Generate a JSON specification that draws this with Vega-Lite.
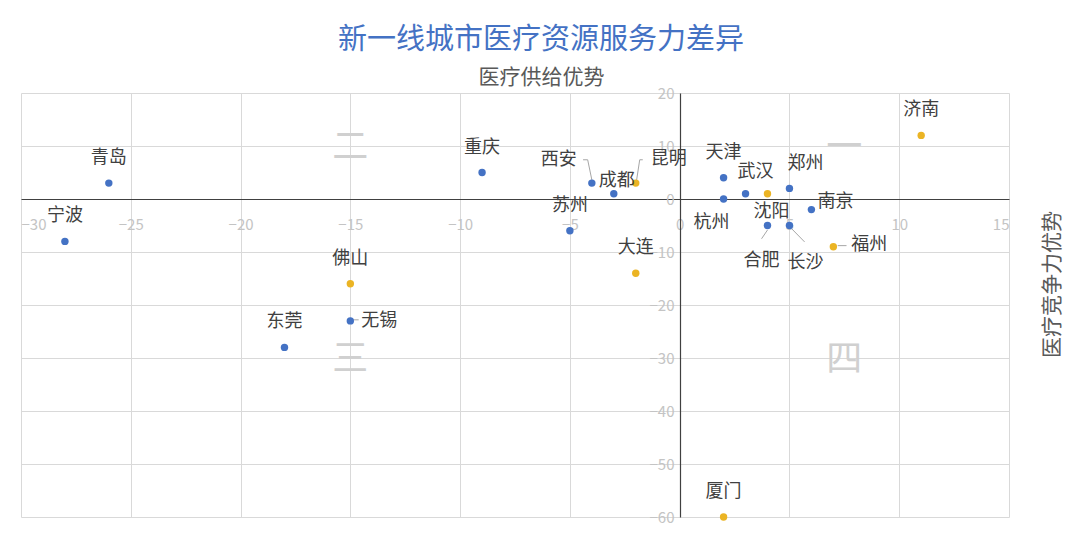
{
  "$schema": "https://vega.github.io/schema/vega-lite/v6.json",
  "width": 988,
  "height": 424,
  "autosize": {"type": "none"},
  "padding": {"left": 21, "top": 93, "right": 71, "bottom": 41},
  "background": "white",
  "config": {
    "view": {"stroke": null},
    "font": "Noto Sans CJK SC"
  },
  "title": {
    "text": "新一线城市医疗资源服务力差异",
    "fontSize": 29,
    "fontWeight": "normal",
    "color": "#4472C4",
    "font": "Noto Sans CJK SC",
    "anchor": "middle",
    "dx": 26,
    "offset": 11
  },
  "datasets": {
    "cities": [
      {"city": "青岛", "supply": -26, "compete": 3, "group": "A"},
      {"city": "宁波", "supply": -28, "compete": -8, "group": "A"},
      {"city": "佛山", "supply": -15, "compete": -16, "group": "B"},
      {"city": "无锡", "supply": -15, "compete": -23, "group": "A"},
      {"city": "东莞", "supply": -18, "compete": -28, "group": "A"},
      {"city": "重庆", "supply": -9, "compete": 5, "group": "A"},
      {"city": "西安", "supply": -4, "compete": 3, "group": "A"},
      {"city": "成都", "supply": -3, "compete": 1, "group": "A"},
      {"city": "昆明", "supply": -2, "compete": 3, "group": "B"},
      {"city": "苏州", "supply": -5, "compete": -6, "group": "A"},
      {"city": "大连", "supply": -2, "compete": -14, "group": "B"},
      {"city": "天津", "supply": 2, "compete": 4, "group": "A"},
      {"city": "杭州", "supply": 2, "compete": 0, "group": "A"},
      {"city": "武汉", "supply": 3, "compete": 1, "group": "A"},
      {"city": "沈阳", "supply": 4, "compete": 1, "group": "B"},
      {"city": "郑州", "supply": 5, "compete": 2, "group": "A"},
      {"city": "南京", "supply": 6, "compete": -2, "group": "A"},
      {"city": "合肥", "supply": 4, "compete": -5, "group": "A"},
      {"city": "长沙", "supply": 5, "compete": -5, "group": "A"},
      {"city": "福州", "supply": 7, "compete": -9, "group": "B"},
      {"city": "济南", "supply": 11, "compete": 12, "group": "B"},
      {"city": "厦门", "supply": 2, "compete": -60, "group": "B"}
    ],
    "quadrants": [
      {"label": "一", "supply": 7.5, "compete": 10},
      {"label": "二", "supply": -15, "compete": 10},
      {"label": "三", "supply": -15, "compete": -30},
      {"label": "四", "supply": 7.5, "compete": -30}
    ],
    "leaders": [
      {"city": "西安", "supply": -4.4, "compete": 7.4, "supply2": -4.19, "compete2": 7.4},
      {"city": "西安", "supply": -4.19, "compete": 7.4, "supply2": -4.0, "compete2": 3.6},
      {"city": "昆明", "supply": -1.68, "compete": 7.4, "supply2": -1.82, "compete2": 7.4},
      {"city": "昆明", "supply": -1.82, "compete": 7.4, "supply2": -1.96, "compete2": 3.6},
      {"city": "合肥", "supply": 4.0, "compete": -5.85, "supply2": 3.73, "compete2": -7.5},
      {"city": "长沙", "supply": 5.1, "compete": -5.6, "supply2": 5.69, "compete2": -8.1},
      {"city": "福州", "supply": 7.2, "compete": -8.8, "supply2": 7.6, "compete2": -8.8},
      {"city": "无锡", "supply": -14.85, "compete": -22.8, "supply2": -14.62, "compete2": -22.8}
    ]
  },
  "encoding": {
    "x": {
      "field": "supply",
      "type": "quantitative",
      "scale": {"domain": [-30, 15], "nice": false, "zero": false},
      "axis": {
        "orient": "bottom",
        "offset": -318,
        "values": [-30, -25, -20, -15, -10, -5, 0, 5, 10, 15],
        "grid": true,
        "gridColor": "#D9D9D9",
        "gridWidth": 1,
        "domainColor": "#404040",
        "domainWidth": 1.2,
        "ticks": false,
        "labelPadding": 18,
        "labelFontSize": 15,
        "labelColor": "#C4C4C4",
        "labelFont": "Noto Sans CJK SC",
        "title": "医疗供给优势",
        "titleFont": "Noto Sans CJK SC",
        "titleFontSize": 21,
        "titleFontWeight": "normal",
        "titleColor": "#595959",
        "titleX": 520,
        "titleY": -122,
        "titleAlign": "center",
        "titleBaseline": "middle",
        "titleAnchor": null
      }
    },
    "y": {
      "field": "compete",
      "type": "quantitative",
      "scale": {"domain": [-60, 20], "nice": false, "zero": false},
      "axis": {
        "orient": "left",
        "offset": -659,
        "values": [-60, -50, -40, -30, -20, -10, 0, 10, 20],
        "grid": true,
        "gridColor": "#D9D9D9",
        "gridWidth": 1,
        "domainColor": "#404040",
        "domainWidth": 1.2,
        "ticks": false,
        "labelPadding": 6,
        "labelFontSize": 15,
        "labelColor": "#C4C4C4",
        "labelFont": "Noto Sans CJK SC",
        "title": "医疗竞争力优势",
        "titleFont": "Noto Sans CJK SC",
        "titleFontSize": 21,
        "titleFontWeight": "normal",
        "titleColor": "#595959",
        "titleAngle": 270,
        "titleX": 372,
        "titleY": 191,
        "titleAlign": "center",
        "titleBaseline": "middle",
        "titleAnchor": null
      }
    }
  },
  "layer": [
    {
      "data": {"name": "quadrants"},
      "mark": {"type": "text", "fontSize": 36, "color": "#D0D0D0", "font": "Noto Sans CJK SC", "baseline": "middle", "align": "center", "dy": 2},
      "encoding": {"text": {"field": "label"}}
    },
    {
      "data": {"name": "leaders"},
      "mark": {"type": "rule", "color": "#A6A6A6", "strokeWidth": 1},
      "encoding": {
        "x2": {"field": "supply2"},
        "y2": {"field": "compete2"}
      }
    },
    {
      "data": {"name": "cities"},
      "mark": {"type": "point", "filled": true, "size": 55, "opacity": 1},
      "encoding": {
        "color": {
          "field": "group",
          "type": "nominal",
          "scale": {"domain": ["A", "B"], "range": ["#4472C4", "#EBB424"]},
          "legend": null
        }
      }
    },
    {
      "data": {"name": "cities"},
      "transform": [{"filter": {"field": "city", "oneOf": ["青岛", "宁波", "佛山", "东莞", "重庆", "苏州", "大连", "天津", "济南", "厦门"]}}],
      "mark": {"type": "text", "fontSize": 18, "color": "#404040", "align": "center", "baseline": "middle", "dy": -25},
      "encoding": {"text": {"field": "city"}}
    },
    {
      "data": {"name": "cities"},
      "transform": [{"filter": {"field": "city", "equal": "郑州"}}],
      "mark": {"type": "text", "fontSize": 18, "color": "#404040", "align": "center", "baseline": "middle", "dx": 16, "dy": -24},
      "encoding": {"text": {"field": "city"}}
    },
    {
      "data": {"name": "cities"},
      "transform": [{"filter": {"field": "city", "equal": "武汉"}}],
      "mark": {"type": "text", "fontSize": 18, "color": "#404040", "align": "center", "baseline": "middle", "dx": 10, "dy": -22},
      "encoding": {"text": {"field": "city"}}
    },
    {
      "data": {"name": "cities"},
      "transform": [{"filter": {"field": "city", "equal": "沈阳"}}],
      "mark": {"type": "text", "fontSize": 18, "color": "#404040", "align": "center", "baseline": "middle", "dx": 4, "dy": 18},
      "encoding": {"text": {"field": "city"}}
    },
    {
      "data": {"name": "cities"},
      "transform": [{"filter": {"field": "city", "equal": "杭州"}}],
      "mark": {"type": "text", "fontSize": 18, "color": "#404040", "align": "center", "baseline": "middle", "dx": -12, "dy": 24},
      "encoding": {"text": {"field": "city"}}
    },
    {
      "data": {"name": "cities"},
      "transform": [{"filter": {"field": "city", "equal": "南京"}}],
      "mark": {"type": "text", "fontSize": 18, "color": "#404040", "align": "left", "baseline": "middle", "dx": 6, "dy": -8},
      "encoding": {"text": {"field": "city"}}
    },
    {
      "data": {"name": "cities"},
      "transform": [{"filter": {"field": "city", "equal": "无锡"}}],
      "mark": {"type": "text", "fontSize": 18, "color": "#404040", "align": "left", "baseline": "middle", "dx": 11, "dy": 0},
      "encoding": {"text": {"field": "city"}}
    },
    {
      "data": {"name": "cities"},
      "transform": [{"filter": {"field": "city", "equal": "福州"}}],
      "mark": {"type": "text", "fontSize": 18, "color": "#404040", "align": "left", "baseline": "middle", "dx": 18, "dy": -2},
      "encoding": {"text": {"field": "city"}}
    },
    {
      "data": {"name": "cities"},
      "transform": [{"filter": {"field": "city", "equal": "合肥"}}],
      "mark": {"type": "text", "fontSize": 18, "color": "#404040", "align": "center", "baseline": "middle", "dx": -6, "dy": 35},
      "encoding": {"text": {"field": "city"}}
    },
    {
      "data": {"name": "cities"},
      "transform": [{"filter": {"field": "city", "equal": "长沙"}}],
      "mark": {"type": "text", "fontSize": 18, "color": "#404040", "align": "center", "baseline": "middle", "dx": 16, "dy": 37},
      "encoding": {"text": {"field": "city"}}
    },
    {
      "data": {"name": "cities"},
      "transform": [{"filter": {"field": "city", "equal": "西安"}}],
      "mark": {"type": "text", "fontSize": 18, "color": "#404040", "align": "right", "baseline": "middle", "dx": -15, "dy": -23},
      "encoding": {"text": {"field": "city"}}
    },
    {
      "data": {"name": "cities"},
      "transform": [{"filter": {"field": "city", "equal": "成都"}}],
      "mark": {"type": "text", "fontSize": 18, "color": "#404040", "align": "center", "baseline": "middle", "dx": 3, "dy": -13},
      "encoding": {"text": {"field": "city"}}
    },
    {
      "data": {"name": "cities"},
      "transform": [{"filter": {"field": "city", "equal": "昆明"}}],
      "mark": {"type": "text", "fontSize": 18, "color": "#404040", "align": "left", "baseline": "middle", "dx": 15, "dy": -24},
      "encoding": {"text": {"field": "city"}}
    }
  ]
}
